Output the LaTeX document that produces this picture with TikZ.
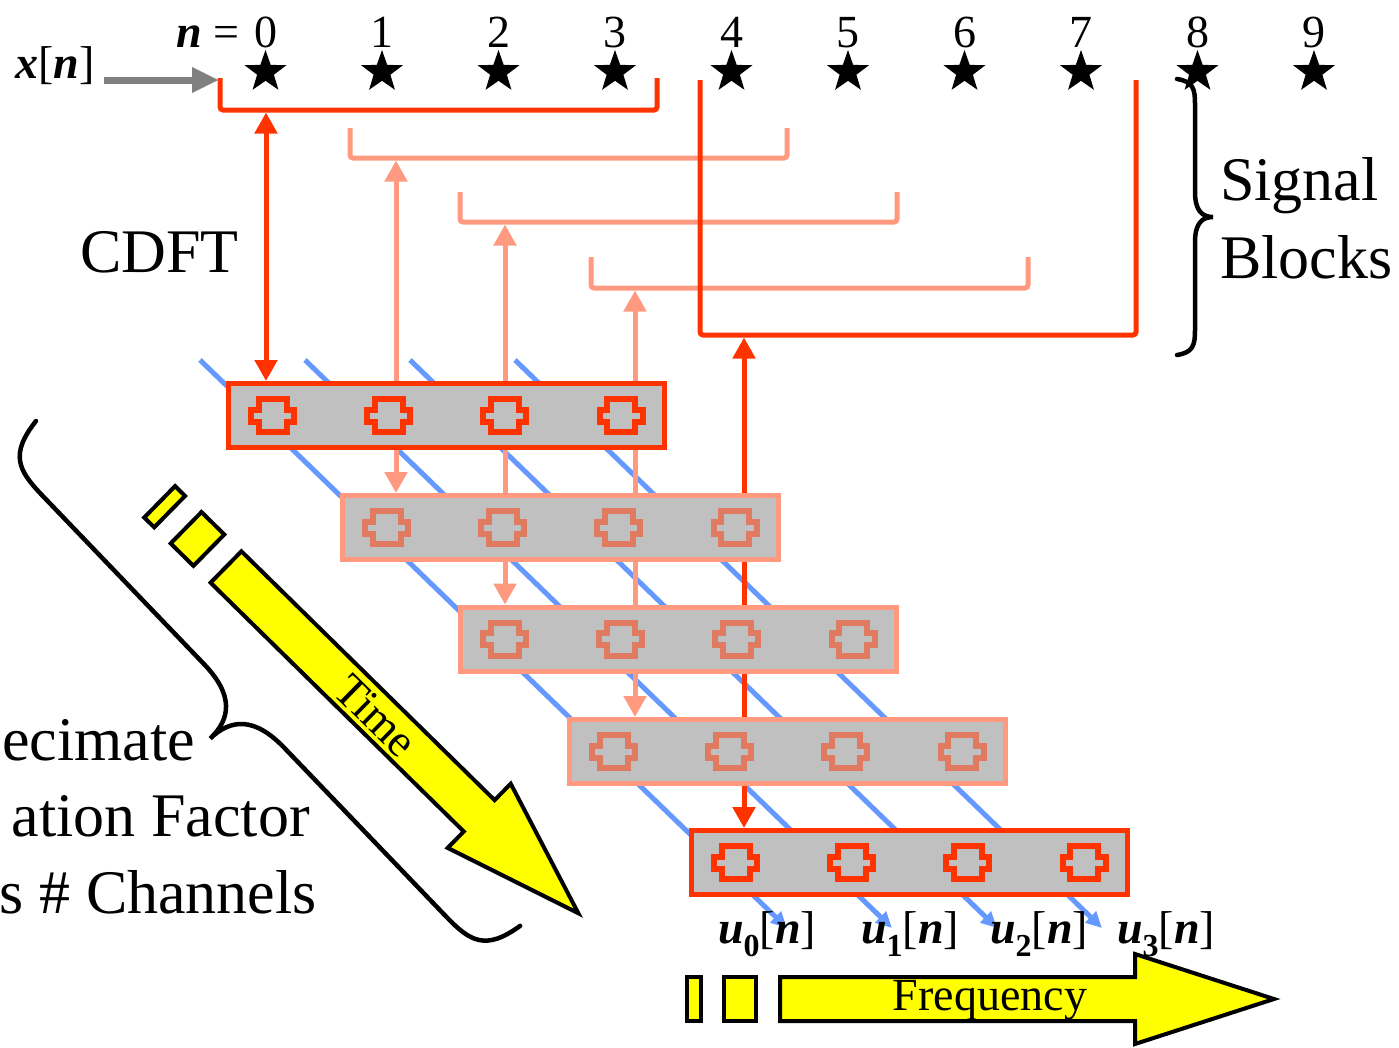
\documentclass[tikz,border=0pt]{standalone}
\usepackage{fontspec}
\setmainfont{Liberation Serif}
\usetikzlibrary{arrows.meta,shapes.geometric,calc,backgrounds}

\definecolor{cdftred}{HTML}{FF3300}
\definecolor{ghostred}{RGB}{255,153,128}
\definecolor{ghostcell}{RGB}{224,122,96}
\definecolor{cellgray}{HTML}{C0C0C0}
\definecolor{chanblue}{HTML}{6699FF}
\definecolor{flowyellow}{HTML}{FFFF00}

% curly brace along local x: length, amplitude, curl
\newcommand{\bracecurve}[3]{%
  (0,0) .. controls ({0.1*#3},{0.45*#2}) and ({0.4*#3},{0.5*#2}) .. ({#3},{0.5*#2})
  -- ({#1/2-#3},{0.5*#2}) .. controls ({#1/2-0.25*#3},{0.5*#2}) and ({#1/2},{0.7*#2}) .. ({#1/2},{#2})
  .. controls ({#1/2},{0.7*#2}) and ({#1/2+0.25*#3},{0.5*#2}) .. ({#1/2+#3},{0.5*#2})
  -- ({#1-#3},{0.5*#2}) .. controls ({#1-0.4*#3},{0.5*#2}) and ({#1-0.1*#3},{0.45*#2}) .. (#1,0)}

\begin{document}
\begin{tikzpicture}[x=1pt, y=-1pt,
  cellbox/.style={rectangle, fill=cellgray, line width=5pt, minimum width=436pt, minimum height=64pt, inner sep=0pt},
  live/.style={draw=cdftred},
  ghost/.style={draw=ghostred},
  cell/.pic={\path[pic actions, line width=6pt, line join=miter]
    (-14,-16.5) -- (14,-16.5) -- (14,-6) -- (21.5,-6) -- (21.5,6) -- (14,6) -- (14,16.5)
    -- (-14,16.5) -- (-14,6) -- (-21.5,6) -- (-21.5,-6) -- (-14,-6) -- cycle;},
  flowarrow/.pic={
    \path[pic actions] (-93,-22) rectangle (-79,22);
    \path[pic actions] (-56,-22) rectangle (-24,22);
    \path[pic actions] (0,-22) -- (355,-22) -- (355,-45) -- (494,0) -- (355,45) -- (355,22) -- (0,22) -- cycle;},
  flowink/.style={draw=black, fill=flowyellow, line width=4pt, line join=miter},
  blockpath/.style={line width=5pt, rounded corners=3pt},
  link/.style={{Triangle[length=21pt,width=22pt]}-{Triangle[length=21pt,width=22pt]}, line width=5pt},
  chan/.style={-{Triangle[length=16pt,width=15pt]}, chanblue, line width=5pt},
  feed/.style={-{Triangle[length=27pt,width=24pt]}, gray, line width=7pt},
  bracestroke/.style={line width=4.5pt, line cap=round},
  starmark/.style={star, star points=5, star point ratio=2.5, fill=black, minimum size=44pt, inner sep=0pt},
  idx/.style={font=\fontsize{46}{48}\selectfont, anchor=base, inner sep=0pt},
  sig/.style={font=\fontsize{46}{48}\selectfont, inner sep=0pt},
  note/.style={font=\fontsize{62}{64}\selectfont, inner sep=0pt},
]
\useasboundingbox (0,0) rectangle (1399,1047);

% === INPUT SAMPLES ===
\node[sig, anchor=base east] (xn) at (95,78) {\textbf{\textit{x}}[\textbf{\textit{n}}]};
\foreach \i in {0,...,9} {
  \node[starmark] (st\i) at ({265.5+116.5*\i},72) {};
  \node[idx] (num\i) at ({265.5+116.5*\i},47) {\i};
}
\node[sig, anchor=base east] (neq) at ($(num0.base west)+(-14,0)$) {\textbf{\textit{n}} =};
\coordinate (xin) at (219,80);
\draw[feed] ($(xn.east |- xin)+(9,0)$) -- (xin);

% === POLYPHASE BOXES ===
\foreach \i/\cx/\cy/\sty/\ink in {1/446.5/415.5/live/cdftred, 2/560.5/527.5/ghost/ghostcell,
    3/678.5/639/ghost/ghostcell, 4/787.5/751.5/ghost/ghostcell, 5/909.5/862.5/live/cdftred} {
  \node[cellbox, \sty] (blk\i) at (\cx,\cy) {};
  \foreach \d in {-174,-57.8,58.4,174.6}
    \pic[draw=\ink] at ($(blk\i)+(\d,0)$) {cell};
}

\begin{scope}[on background layer]
  % channel outputs
  \foreach \k in {0,...,3} {
    \coordinate (cha\k) at ({200+105*\k},360);
    \coordinate (chb\k) at ({787+105*\k},928);
    \draw[chan] (cha\k) -- (chb\k);
  }
  % signal blocks
  \foreach \bl/\bt/\bb in {350/128/158, 460/192/222, 591/257/288}
    \draw[blockpath, ghostred] (\bl,\bt) |- ({\bl+437},\bb) -- ({\bl+437},\bt);
  \draw[blockpath, cdftred] (220,78) |- (657,110) -- (657,78);
  \draw[blockpath, cdftred] (700,80) |- (1136,335) -- (1136,80);
  % CDFT links
  \coordinate (tap1) at (266,112.5);
  \coordinate (tap2) at (396,160.5);
  \coordinate (tap3) at (505,224.5);
  \coordinate (tap4) at (635,290.5);
  \coordinate (tap5) at (744,337.5);
  \foreach \i in {2,3,4}
    \draw[link, ghostred] (tap\i) -- (tap\i |- blk\i.north);
  \draw[link, cdftred] (tap1) -- (tap1 |- blk1.north);
  \draw[link, cdftred] (tap5) -- (tap5 |- blk5.north);
\end{scope}

\node[note, anchor=base west] (cdft) at (80,272) {CDFT};

% === SIGNAL BLOCKS BRACE ===
\draw[bracestroke, shift={(1177,355)}, rotate=90] \bracecurve{276}{36}{25};
\node[note, anchor=base west] (sigl) at (1220,200) {Signal};
\node[note, anchor=base west] (blkl) at (1220,278) {Blocks};

% === TIME AXIS ===
\pic[flowink, rotate=-44.5] at (226,567) {flowarrow};
\node[sig, rotate=-44.5] (timelbl) at (376,716) {Time};
\draw[bracestroke, shift={(36,421)}, rotate=-46.2] \bracecurve{699.5}{94}{58};
\node[note, anchor=base east] (dec1) at (195,760) {ecimate};
\node[note, anchor=base east] (dec2) at (310,836) {ation Factor};
\node[note, anchor=base east] (dec3) at (317,913) {s \# Channels};

% === FREQUENCY AXIS ===
\pic[flowink] at (780,999) {flowarrow};
\node[sig] (freqlbl) at (990,1000) {Frequency};
\foreach \k/\ux in {0/767, 1/910, 2/1039, 3/1166}
  \node[sig, anchor=base] (u\k) at (\ux,943)
    {\textbf{\textit{u}}\raisebox{-13pt}{\fontsize{32}{32}\selectfont\bfseries\k}[\textbf{\textit{n}}]};
\end{tikzpicture}
\end{document}
